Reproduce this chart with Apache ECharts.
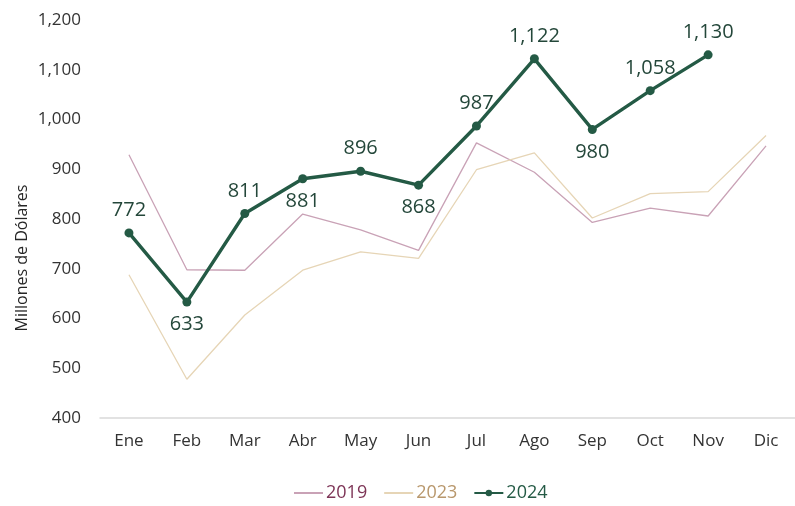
<!DOCTYPE html>
<html>
<head>
<meta charset="utf-8">
<script src="https://cdn.jsdelivr.net/npm/echarts@6/dist/echarts.min.js"></script>
<style>
  html, body { margin: 0; padding: 0; background: #fff; }
  #chart { width: 795px; height: 506px; }
</style>
</head>
<body>
<div id="chart"></div>
<script>
  // meses
  var months = ['Ene', 'Feb', 'Mar', 'Abr', 'May', 'Jun', 'Jul', 'Ago', 'Sep', 'Oct', 'Nov', 'Dic'];
  // millones de dolares
  var data2019 = [929, 698, 697, 810, 778, 737, 953, 894, 793, 822, 806, 947];
  var data2023 = [688, 478, 607, 697, 734, 721, 899, 933, 802, 851, 855, 968];
  var data2024 = [772, 633, 811, 881, 896, 868, 987, 1122, 980, 1058, 1130];
  var below2024 = [1, 3, 5, 8]; // etiquetas debajo del punto

  var font = '"Open Sans", "Noto Sans", sans-serif';
  var fmt = function (v) { return Number(v).toLocaleString('en-US'); };

  var chart = echarts.init(document.getElementById('chart'));

  var points2024 = data2024.map(function (v, i) {
    return {
      value: v,
      label: { position: below2024.indexOf(i) >= 0 ? 'bottom' : 'top' }
    };
  });

  chart.setOption({
    animation: false,
    textStyle: { fontFamily: font },
    grid: { left: 100, right: 0, top: 20, bottom: 88 },
    legend: {
      bottom: -1,
      left: 288,
      itemWidth: 29,
      itemHeight: 8,
      itemGap: 16,
      textStyle: { fontSize: 18, fontFamily: font, padding: [0, 0, 0, -2] },
      data: [
        { name: '2019', itemStyle: { opacity: 0 }, textStyle: { color: '#7d3456' } },
        { name: '2023', itemStyle: { opacity: 0 }, textStyle: { color: '#b8976c' } },
        { name: '2024', textStyle: { color: '#245a45' } }
      ]
    },
    graphic: [{
      type: 'text',
      x: 22,
      y: 258,
      rotation: Math.PI / 2,
      style: {
        text: 'Millones de Dólares',
        font: '16px ' + font,
        fill: '#262626',
        align: 'center',
        verticalAlign: 'middle'
      }
    }],
    xAxis: {
      type: 'category',
      boundaryGap: true,
      data: months,
      axisLine: { show: true, lineStyle: { color: '#d9d9d9', width: 1.5 } },
      axisTick: { show: false },
      axisLabel: { color: '#333', fontSize: 17, margin: 15 }
    },
    yAxis: {
      type: 'value',
      min: 400,
      max: 1200,
      interval: 100,
      axisLine: { show: false },
      axisTick: { show: false },
      splitLine: { show: false },
      axisLabel: { color: '#333', fontSize: 17, margin: 19, formatter: fmt }
    },
    series: [
      {
        name: '2019',
        type: 'line',
        symbol: 'none',
        data: data2019,
        lineStyle: { color: '#c9a2b6', width: 1.3 },
        itemStyle: { color: '#c9a2b6' }
      },
      {
        name: '2023',
        type: 'line',
        symbol: 'none',
        data: data2023,
        lineStyle: { color: '#e6d5b6', width: 1.3 },
        itemStyle: { color: '#e6d5b6' }
      },
      {
        name: '2024',
        type: 'line',
        symbol: 'circle',
        symbolSize: 9,
        data: points2024,
        lineStyle: { color: '#245a45', width: 3.4 },
        itemStyle: { color: '#245a45' },
        label: {
          show: true,
          color: '#24473a',
          fontSize: 20,
          distance: 8,
          formatter: function (p) { return fmt(p.value); }
        },
        z: 5
      }
    ]
  });
</script>
</body>
</html>
